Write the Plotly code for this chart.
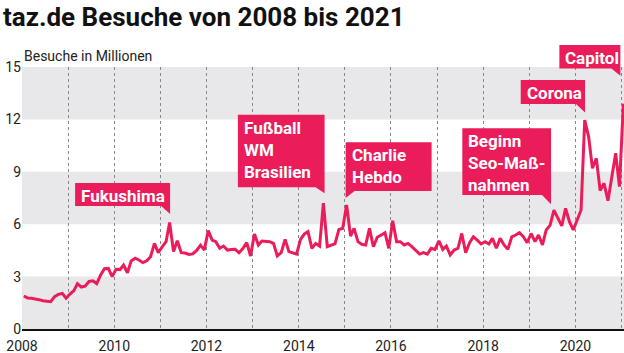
import pandas as pd
import plotly.graph_objects as go

# ---- data (monthly visits, millions, Jan 2008 .. Jan 2021) ----
visits = [
    1.89, 1.78, 1.76, 1.74, 1.68, 1.62, 1.58, 1.56, 1.85, 1.98, 2.04, 1.76,   # 2008
    2.00, 2.20, 2.60, 2.40, 2.45, 2.72, 2.76, 2.60, 3.10, 3.45, 3.47, 3.00,   # 2009
    3.42, 3.40, 3.66, 3.22, 3.90, 4.05, 3.95, 3.80, 3.90, 4.14, 4.90, 4.37,   # 2010
    4.70, 5.00, 6.10, 4.43, 5.05, 4.37, 4.35, 4.27, 4.30, 4.50, 4.80, 4.52,   # 2011
    5.63, 5.09, 5.00, 4.62, 4.75, 4.52, 4.55, 4.56, 4.37, 4.60, 4.95, 4.18,   # 2012
    5.44, 4.81, 5.04, 5.02, 5.00, 4.90, 4.18, 4.37, 5.13, 4.43, 4.35, 4.29,   # 2013
    5.13, 5.44, 5.57, 4.62, 4.90, 4.75, 7.20, 4.71, 4.80, 4.87, 5.70, 5.76,   # 2014
    7.10, 5.32, 5.76, 5.00, 4.85, 4.81, 5.76, 4.71, 5.25, 5.40, 5.51, 4.62,   # 2015
    6.20, 5.00, 5.00, 4.81, 4.90, 4.71, 4.50, 4.29, 4.37, 4.29, 4.62, 4.56,   # 2016
    5.05, 4.56, 4.75, 4.24, 4.52, 4.62, 5.47, 4.37, 4.94, 5.28, 5.09, 4.87,   # 2017
    5.00, 4.87, 5.19, 4.62, 5.19, 4.81, 4.56, 5.28, 5.38, 5.51, 5.28, 4.94,   # 2018
    5.47, 5.00, 5.38, 4.81, 5.67, 5.95, 6.81, 6.39, 5.90, 6.91, 6.14, 5.67,   # 2019
    6.24, 6.81, 11.96, 11.00, 9.20, 9.77, 7.92, 8.34, 7.34, 8.60, 10.06, 8.15, # 2020
    12.90,                                                                      # 2021
]
start_month = "2008-01"
months = pd.period_range(start_month, periods=len(visits), freq="M")
dates = [m.to_timestamp() + pd.Timedelta(days=14) for m in months]

tick_years = list(range(2008, 2022))
tick_labels = [str(y) if y % 2 == 0 else "" for y in tick_years]
y_ticks = [0, 3, 6, 9, 12, 15]
y_max = 15

events = [
    ("2011-03", "Fukushima"),
    ("2014-07", "Fußball<br>WM<br>Brasilien"),
    ("2015-01", "Charlie<br>Hebdo"),
    ("2019-07", "Beginn<br>Seo-Maß-<br>nahmen"),
    ("2020-03", "Corona"),
    ("2021-01", "Capitol"),
]
# bubble geometry in pixels relative to the data point: left, right, top, bottom, tail-tip, tail side
bubble_geo = [
    (-94.5, 0.5, 39.4, 16.4, 8.4, "r"),
    (-85.5, 1.2, 88.5, 16.0, 10.0, "r"),
    (-1.0, 85.0, 62.7, 14.0, 7.0, "l"),
    (-91.6, -2.9, 81.7, 15.0, 5.7, "r"),
    (-64.0, 0.3, 40.0, 16.0, 7.7, "r"),
    (-64.0, -3.0, 58.6, 35.3, 28.0, "r"),
]

PINK = "#ea1c5a"
BAND = "#e8e8ea"
FONT = "Roboto"

fig = go.Figure()
fig.add_trace(go.Scatter(x=dates, y=visits, mode="lines",
                         line=dict(color=PINK, width=3), hoverinfo="skip"))

shapes = []
for lo, hi in [(0, 3), (6, 9), (12, 15)]:
    shapes.append(dict(type="rect", xref="paper", yref="y", x0=0, x1=1, y0=lo, y1=hi,
                       fillcolor=BAND, line=dict(width=0), layer="below"))

annotations = []
month_str = list(months.astype(str))
for (mon, text), (L, R, T, B, tip, side) in zip(events, bubble_geo):
    i = month_str.index(mon)
    xd, yd = dates[i], visits[i]
    tw = 9
    if side == "r":
        path = f"M {L},{T} L {R},{T} L {R},{tip} L {R - tw},{B} L {L},{B} Z"
    else:
        path = f"M {L},{T} L {R},{T} L {R},{B} L {L + tw},{B} L {L},{tip} Z"
    shapes.append(dict(type="path", xref="x", yref="paper", xsizemode="pixel", ysizemode="pixel",
                       xanchor=xd, yanchor=yd / y_max, path=path, fillcolor=PINK,
                       line=dict(width=0), layer="above"))
    annotations.append(dict(x=xd, y=yd, xref="x", yref="y", text=f"<b>{text}</b>",
                            showarrow=False, xanchor="left", yanchor="top", align="left",
                            xshift=L + 5, yshift=T - 2, borderpad=0,
                            font=dict(family=FONT, size=17, color="white")))

annotations.append(dict(x=0, y=1, xref="paper", yref="paper", text="Besuche in Millionen",
                        showarrow=False, xanchor="left", yanchor="bottom", yshift=1,
                        font=dict(family=FONT, size=14, color="#222")))

fig.update_layout(
    width=624, height=353,
    margin=dict(l=22, r=0, t=67, b=24),
    paper_bgcolor="white", plot_bgcolor="white",
    showlegend=False,
    title=dict(text="<b>taz.de Besuche von 2008 bis 2021</b>", x=3 / 624, xanchor="left",
               xref="container", yref="container", y=1 - 17 / 353, yanchor="middle",
               font=dict(family=FONT, size=26, color="#111")),
    shapes=shapes, annotations=annotations,
    xaxis=dict(type="date", range=["2008-01-01", "2021-01-20"],
               tickvals=[f"{y}-01-01" for y in tick_years], ticktext=tick_labels,
               showgrid=True, gridcolor="#888", griddash="dot", gridwidth=1,
               showline=True, linecolor="#111", linewidth=2, ticks="",
               ticklabelstandoff=3, automargin=False,
               tickfont=dict(family=FONT, size=14, color="#222"), zeroline=False),
    yaxis=dict(range=[0, y_max], tickvals=y_ticks, showgrid=False, zeroline=False,
               showline=False, ticks="", automargin=False,
               tickfont=dict(family=FONT, size=14, color="#222")),
)
fig.write_html("out.html")
